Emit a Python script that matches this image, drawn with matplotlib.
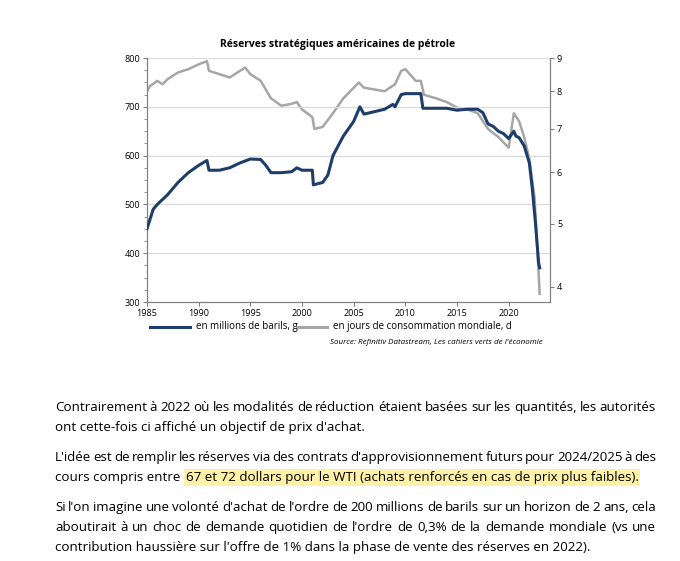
import matplotlib.pyplot as plt
import matplotlib.ticker as mticker

plt.rcParams['font.family'] = ['Open Sans', 'DejaVu Sans']

# millions de barils (axe gauche)
yr_g = [1985.0, 1985.3, 1985.6, 1986, 1987, 1988, 1989, 1990, 1990.8, 1991, 1992, 1993, 1994,
        1995, 1996, 1996.5, 1997, 1998, 1999, 1999.5, 2000, 2001, 2001.1, 2002, 2002.5, 2003,
        2004, 2005, 2005.6, 2006, 2007, 2008, 2008.8, 2009, 2009.6, 2010, 2011.5, 2011.7, 2013,
        2014, 2015, 2016, 2017, 2017.5, 2018, 2018.5, 2019, 2019.5, 2020, 2020.5, 2020.7, 2021,
        2021.5, 2022, 2022.3, 2022.6, 2022.9, 2023]
val_g = [450, 470, 490, 500, 520, 545, 565, 580, 590, 570, 570, 575, 585,
         593, 592, 580, 565, 565, 567, 575, 570, 570, 540, 545, 560, 600,
         640, 670, 700, 685, 690, 695, 705, 700, 725, 727, 727, 697, 697,
         697, 693, 695, 695, 688, 665, 660, 650, 645, 635, 650, 640, 637,
         620, 585, 530, 460, 380, 370]

# jours de consommation mondiale (axe droit)
yr_d = [1985, 1985.3, 1986, 1986.5, 1987, 1988, 1989, 1990, 1990.8, 1991, 1992, 1993, 1994,
        1994.5, 1995, 1996, 1997, 1998, 1999, 1999.5, 2000, 2001, 2001.2, 2002, 2003, 2004,
        2005, 2005.5, 2006, 2007, 2008, 2008.5, 2009, 2009.6, 2010, 2011, 2011.5, 2011.8, 2013,
        2014, 2015, 2016, 2017, 2018, 2019, 2020, 2020.5, 2021, 2021.5, 2022, 2022.5, 2022.8, 2023]
val_d = [8.0, 8.15, 8.3, 8.2, 8.35, 8.55, 8.65, 8.8, 8.9, 8.6, 8.5, 8.4, 8.6,
         8.7, 8.5, 8.3, 7.8, 7.6, 7.65, 7.7, 7.5, 7.3, 7.0, 7.05, 7.4, 7.8,
         8.1, 8.25, 8.1, 8.05, 8.0, 8.1, 8.2, 8.6, 8.65, 8.3, 8.3, 7.9, 7.8,
         7.7, 7.55, 7.5, 7.4, 7.0, 6.8, 6.55, 7.4, 7.2, 6.8, 6.3, 5.5, 4.5, 3.9]

W, H = 680, 561
fig = plt.figure(figsize=(W / 100, H / 100), dpi=100)
ax = fig.add_axes([147 / W, 1 - 302 / H, (550 - 147) / W, (302 - 58) / H])
ax2 = ax.twinx()

ax.plot(yr_g, val_g, color='#1f3d6b', lw=2.2, zorder=3)
ax2.plot(yr_d, val_d, color='#a6a6a6', lw=1.8)
ax.set_zorder(ax2.get_zorder() + 1)
ax.patch.set_visible(False)

ax.set_xlim(1985, 2024)
ax.set_ylim(300, 800)
ax.set_xticks(range(1985, 2021, 5))
ax.set_yticks(range(300, 801, 100))
ax.yaxis.set_minor_locator(mticker.MultipleLocator(25))
ax.grid(axis='y', color='#d9d9d9', lw=0.8)
ax2.set_yscale('log')
ax2.set_ylim(3.79, 9)
ax2.set_yticks([4, 5, 6, 7, 8, 9])
ax2.yaxis.set_major_formatter(mticker.FormatStrFormatter('%d'))
ax2.yaxis.set_minor_locator(mticker.NullLocator())
for a in (ax, ax2):
    a.tick_params(labelsize=6.5, length=3, color='#808080', pad=2)
    a.tick_params(which='minor', length=2, color='#808080')
    a.spines['top'].set_visible(False)
    for s in ('left', 'right', 'bottom'):
        a.spines[s].set_color('#808080')

fig.text(338 / W, 1 - 44 / H, 'Réserves stratégiques américaines de pétrole',
         ha='center', va='center', fontsize=7.5, fontweight='bold')

# legende
fig.add_artist(plt.Line2D([150 / W, 190 / W], [1 - 327 / H] * 2, color='#1f3d6b', lw=2.2))
fig.text(196 / W, 1 - 327 / H, 'en millions de barils, g', fontsize=7, va='center')
fig.add_artist(plt.Line2D([297 / W, 327 / W], [1 - 327 / H] * 2, color='#a6a6a6', lw=2.2))
fig.text(333 / W, 1 - 327 / H, 'en jours de consommation mondiale, d', fontsize=7, va='center')
fig.text(543 / W, 1 - 342 / H, 'Source: Refinitiv Datastream, Les cahiers verts de l\'économie',
         fontsize=5.8, style='italic', ha='right', va='center')

# paragraphes (y = ligne de base en pixels)
lines = [
    (411, "Contrairement à 2022 où les modalités de réduction étaient basées sur les quantités, les autorités", True),
    (431, "ont cette-fois ci affiché un objectif de prix d'achat.", False),
    (461, "L'idée est de remplir les réserves via des contrats d'approvisionnement futurs pour 2024/2025 à des", True),
    (511, "Si l'on imagine une volonté d'achat de l'ordre de 200 millions de barils sur un horizon de 2 ans, cela", True),
    (531, "aboutirait à un choc de demande quotidien de l'ordre de 0,3% de la demande mondiale (vs une", True),
    (551, "contribution haussière sur l'offre de 1% dans la phase de vente des réserves en 2022).", False),
]
x0, x1 = 55, 656
fs = 9.6
fig.canvas.draw()
r = fig.canvas.get_renderer()


def width(t):
    return t.get_window_extent(renderer=r).width


for y, s, just in lines:
    if not just:
        fig.text(x0 / W, 1 - y / H, s, fontsize=fs, va='baseline')
        continue
    words = s.split(' ')
    ts = [fig.text(0, 1 - y / H, w, fontsize=fs, va='baseline') for w in words]
    ws = [width(t) for t in ts]
    gap = (x1 - x0 - sum(ws)) / (len(words) - 1)
    x = x0
    for t, w in zip(ts, ws):
        t.set_x(x / W)
        x += w + gap

t1 = fig.text(x0 / W, 1 - 481 / H, 'cours compris entre ', fontsize=fs, va='baseline')
w1 = width(t1)
fig.text((x0 + w1 + 2) / W, 1 - 481 / H,
         '67 et 72 dollars pour le WTI (achats renforcés en cas de prix plus faibles).',
         fontsize=fs, va='baseline',
         bbox=dict(facecolor='#fff2a8', edgecolor='none', pad=1.2))

fig.savefig('out.png', dpi=100)
